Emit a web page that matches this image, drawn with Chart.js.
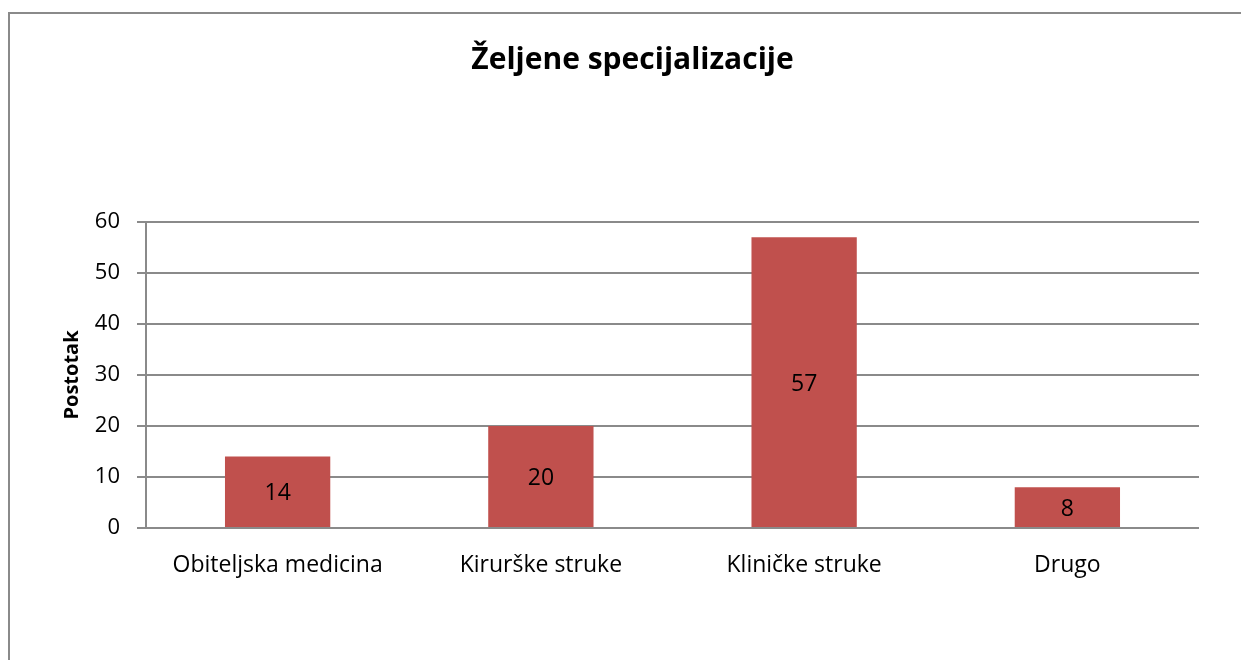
<!DOCTYPE html>
<html>
<head>
<meta charset="utf-8">
<script src="https://cdn.jsdelivr.net/npm/chart.js@4"></script>
<style>
  body { margin: 0; background: #fff; }
  #wrap { position: relative; width: 1241px; height: 660px; }
  #frame { position: absolute; left: 8px; top: 12px; width: 1300px; height: 700px;
           border-top: 2px solid #8a8a8a; border-left: 2px solid #8a8a8a; }
  canvas { position: absolute; left: 0; top: 0; }
</style>
</head>
<body>
<div id="wrap">
  <div id="frame"></div>
  <canvas id="chart" width="1241" height="660"></canvas>
</div>
<script>
const categories = ["Obiteljska medicina", "Kirurške struke", "Kliničke struke", "Drugo"];
const values = [14, 20, 57, 8];
const yTicks = [0, 10, 20, 30, 40, 50, 60];
const yTitle = "Postotak";

const fontFamily = "'Open Sans', 'Noto Sans', sans-serif";

// value labels in the middle of each bar + rotated y axis title
const extras = {
    id: "extras",
    afterDatasetsDraw(chart) {
        const ctx = chart.ctx;
        const meta = chart.getDatasetMeta(0);
        ctx.save();
        ctx.font = "23px " + fontFamily;
        ctx.fillStyle = "#000";
        ctx.textAlign = "center";
        ctx.textBaseline = "middle";
        meta.data.forEach((bar, i) => {
            const mid = (bar.y + bar.base) / 2 + 2;
            ctx.fillText(String(values[i]), bar.x, mid);
        });
        ctx.restore();

        const area = chart.chartArea;
        ctx.save();
        ctx.translate(72, (area.top + area.bottom) / 2);
        ctx.rotate(-Math.PI / 2);
        ctx.font = "bold 20px " + fontFamily;
        ctx.fillStyle = "#000";
        ctx.textAlign = "center";
        ctx.textBaseline = "middle";
        ctx.fillText(yTitle, 0, 0);
        ctx.restore();
    },
};

new Chart(document.getElementById("chart"), {
    type: "bar",
    data: {
        labels: categories,
        datasets: [
            {
                data: values,
                backgroundColor: "#C0504D",
                borderWidth: 0,
                categoryPercentage: 1,
                barPercentage: 0.4,
            },
        ],
    },
    options: {
        responsive: false,
        animation: false,
        layout: { padding: { left: 66, right: 42, top: 0, bottom: 0 } },
        plugins: {
            legend: { display: false },
            tooltip: { enabled: false },
            title: {
                display: true,
                text: "Željene specijalizacije",
                color: "#000",
                font: { family: fontFamily, size: 30, weight: "bold", lineHeight: 1.2 },
                padding: { top: 42, bottom: 144 },
            },
        },
        scales: {
            x: {
                grid: { display: false, drawTicks: false },
                border: { display: false },
                ticks: {
                    color: "#000",
                    padding: 24,
                    font: { family: fontFamily, size: 23 },
                },
                afterFit(scale) { scale.height = 132; },
            },
            y: {
                min: 0,
                max: 60,
                afterBuildTicks(scale) {
                    scale.ticks = yTicks.map((v) => ({ value: v }));
                },
                grid: { color: "#8a8a8a", lineWidth: 2, tickLength: 9 },
                border: { display: true, color: "#8a8a8a", width: 2 },
                ticks: {
                    color: "#000",
                    padding: 17,
                    font: { family: fontFamily, size: 22 },
                },
                afterFit(scale) { scale.width = 80; },
            },
        },
    },
    plugins: [extras],
});
</script>
</body>
</html>
